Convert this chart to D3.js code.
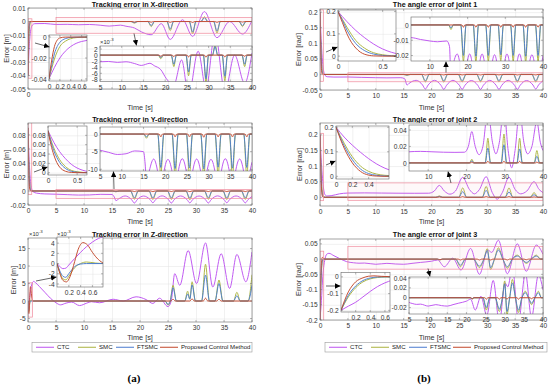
<!DOCTYPE html>
<html><head><meta charset="utf-8">
<script src="https://cdn.jsdelivr.net/npm/d3@7"></script>
<style>body{margin:0;background:#fff}svg{display:block}</style>
</head><body><svg width="550" height="388"></svg>
<script>
// ---------- series names / colours ----------
const seriesNames = ['CTC','SMC','FTSMC','Proposed Control Method'];
const seriesColors = ['#bd52f0','#aab33e','#4a7bcf','#c2472a'];

// ---------- (a) X-direction tracking error [m] ----------
const xCTC=[[0,-0.04],[0.1,-0.029],[0.2,-0.02],[0.3,-0.0135],[0.4,-0.009],[0.5,-0.006],[0.6,-0.0042],[0.8,-0.0026],[1.2,-0.0016],[3,-0.0015],[5,-0.0022],[7,-0.0021],[9,-0.0024],[11,-0.0022],[13,-0.0028],[14.5,-0.0034],[16.5,-0.0027],[17.5,-0.0035],[19,-0.0048],[20.3,-0.0078],[22,-0.0098],[23.8,-0.0016],[25.4,-0.0133],[27.6,0.0013],[29.4,-0.011],[31.5,0.0073],[33.75,-0.012],[36,0],[38.3,-0.0093],[40,0.0007]];
const xSMC=[[0,-0.04],[0.05,-0.03],[0.1,-0.021],[0.2,-0.009],[0.3,-0.004],[0.4,-0.0015],[0.5,-0.0005],[0.7,0],[18.4,0],[19,-0.0012],[19.6,0],[21.4,0],[22,-0.0038],[22.6,0],[24.8,0],[25.4,-0.0068],[26,0],[28.8,0],[29.4,-0.009],[30,0],[30.9,0],[31.5,0.0035],[32.1,0],[33.15,0],[33.75,-0.0085],[34.35,0],[37.7,0],[38.3,-0.0038],[38.9,0],[40,0]];
const xFTSMC=[[0,-0.04],[0.05,-0.027],[0.1,-0.016],[0.15,-0.009],[0.2,-0.005],[0.3,-0.0015],[0.4,-0.0004],[0.55,0],[18.4,0],[19,-0.0008],[19.6,0],[21.4,0],[22,-0.003],[22.6,0],[24.8,0],[25.4,-0.0055],[26,0],[28.8,0],[29.4,-0.0078],[30,0],[30.9,0],[31.5,0.0028],[32.1,0],[33.15,0],[33.75,-0.007],[34.35,0],[37.7,0],[38.3,-0.003],[38.9,0],[40,0]];
const xPCM=[[0,-0.04],[0.05,-0.022],[0.1,-0.009],[0.15,-0.003],[0.2,-0.0008],[0.3,0],[18.6,0],[19,-0.0004],[19.4,0],[21.6,0],[22,-0.0005],[22.4,0],[25,0],[25.4,-0.0006],[25.8,0],[29,0],[29.4,-0.0007],[29.8,0],[33.35,0],[33.75,-0.0006],[34.15,0],[37.9,0],[38.3,-0.0004],[38.7,0],[40,0]];

// ---------- (a) Y-direction tracking error [m] ----------
const yCTC=[[0,0.09],[0.1,0.065],[0.2,0.045],[0.3,0.03],[0.4,0.018],[0.5,0.01],[0.6,0.005],[0.7,0.002],[0.9,-0.001],[1.5,-0.003],[3,-0.0042],[5,-0.0046],[7,-0.0052],[9,-0.0058],[11,-0.0056],[13,-0.0048],[15,-0.005],[15.4,-0.0085],[15.7,-0.0138],[16.2,-0.0112],[17.35,-0.0071],[18.5,-0.0124],[19,-0.0172],[19.5,-0.0124],[20.65,-0.0072],[21.8,-0.0122],[22.3,-0.0168],[22.8,-0.0122],[23.95,-0.007],[25.1,-0.0124],[25.6,-0.0172],[26.1,-0.0124],[27.25,-0.0071],[28.4,-0.0123],[28.9,-0.017],[29.4,-0.0123],[30.55,-0.0072],[31.7,-0.0124],[32.2,-0.0172],[32.7,-0.0124],[33.85,-0.007],[35,-0.0122],[35.5,-0.0168],[36,-0.0122],[37.15,-0.0071],[38.3,-0.0123],[38.8,-0.017],[39.3,-0.0123],[40,-0.008]];
const ySMC=[[0,0.09],[0.05,0.07],[0.1,0.053],[0.2,0.028],[0.3,0.013],[0.4,0.005],[0.5,0.002],[0.7,0],[15.1,0],[15.7,-0.0012],[16.3,0],[18.3,0],[19,-0.0118],[19.7,0],[21.6,0],[22.3,-0.0122],[23,0],[24.9,0],[25.6,-0.012],[26.3,0],[28.2,0],[28.9,-0.0125],[29.6,0],[31.5,0],[32.2,-0.0118],[32.9,0],[34.8,0],[35.5,-0.0122],[36.2,0],[38.1,0],[38.8,-0.012],[39.5,0],[40,0]];
const yFTSMC=[[0,0.09],[0.05,0.066],[0.1,0.047],[0.15,0.033],[0.2,0.022],[0.3,0.009],[0.4,0.003],[0.5,0.001],[0.6,0],[15.1,0],[15.7,-0.0008],[16.3,0],[18.3,0],[19,-0.0095],[19.7,0],[21.6,0],[22.3,-0.0098],[23,0],[24.9,0],[25.6,-0.0096],[26.3,0],[28.2,0],[28.9,-0.0099],[29.6,0],[31.5,0],[32.2,-0.0094],[32.9,0],[34.8,0],[35.5,-0.0097],[36.2,0],[38.1,0],[38.8,-0.0095],[39.5,0],[40,0]];
const yPCM=[[0,0.09],[0.05,0.06],[0.1,0.038],[0.15,0.022],[0.2,0.012],[0.3,0.003],[0.4,0.0005],[0.5,0],[18.6,0],[19,-0.0008],[19.4,0],[21.9,0],[22.3,-0.0008],[22.7,0],[25.2,0],[25.6,-0.0008],[26,0],[28.5,0],[28.9,-0.0009],[29.3,0],[31.8,0],[32.2,-0.0008],[32.6,0],[35.1,0],[35.5,-0.0008],[35.9,0],[38.4,0],[38.8,-0.0008],[39.2,0],[40,0]];

// ---------- (a) Z-direction tracking error [m] ----------
const zCTC=[[0,0],[0.05,-0.0006],[0.1,-0.001],[0.15,-0.0009],[0.2,-0.0003],[0.3,0.001],[0.4,0.0022],[0.5,0.0033],[0.6,0.0042],[0.7,0.0049],[0.85,0.0054],[1,0.0056],[1.3,0.0053],[2,0.0042],[3,0.0025],[4,0.0008],[5,-0.0005],[5.8,-0.0011],[6.8,-0.0006],[7.8,-0.0003],[9.2,-0.0013],[10.5,-0.0006],[11.3,-0.0002],[12.8,-0.0005],[15.2,0.0005],[17,0],[19.3,0.0012],[21.1,0.0004],[22.3,-0.0007],[23.5,0.0008],[25,-0.0016],[25.6,0.0002],[26.2,0.0078],[27.1,0.0045],[28.6,0.0144],[30.1,0.005],[31.7,0.0166],[33,0.004],[34.5,0.0135],[36,0.0036],[37.3,0.0133],[38.9,0.0055],[40,0.014]];
const zSMC=[[0,0],[0.05,-0.0018],[0.1,-0.003],[0.15,-0.0032],[0.2,-0.0025],[0.3,-0.0008],[0.4,0],[0.5,0.0003],[0.65,0.0001],[0.8,0],[24.5,0],[25,-0.0012],[25.4,0],[25.9,0.0045],[26.5,0],[28,0],[28.5,0.0028],[28.9,0.0006],[29.3,0.0055],[29.9,0],[31,0],[31.7,0.0105],[32.4,0],[33.4,0],[34.1,0.006],[34.8,0],[36.7,0],[37.3,0.0025],[37.9,0],[39.3,0],[40,0.0075]];
const zFTSMC=[[0,0],[0.05,-0.0015],[0.1,-0.0025],[0.15,-0.0027],[0.2,-0.002],[0.3,-0.0006],[0.4,-0.0001],[0.5,0],[24.5,0],[25,-0.001],[25.4,0],[25.9,0.0038],[26.5,0],[28,0],[28.5,0.002],[28.9,0.0005],[29.3,0.0046],[29.9,0],[31,0],[31.7,0.0074],[32.4,0],[33.4,0],[34.1,0.005],[34.8,0],[36.7,0],[37.3,0.0015],[37.9,0],[39.3,0],[40,0.0045]];
const zPCM=[[0,0],[0.05,-0.002],[0.1,-0.0033],[0.16,-0.0036],[0.22,-0.0026],[0.3,0.0004],[0.36,0.0028],[0.44,0.0041],[0.52,0.0036],[0.6,0.0022],[0.7,0.0008],[0.8,0.0001],[1,0],[25.5,0],[25.9,0.0005],[26.3,0],[28.9,0],[29.3,0.0006],[29.7,0],[31.3,0],[31.7,0.0008],[32.1,0],[33.7,0],[34.1,0.0005],[34.5,0],[40,0]];

// ---------- (b) joint 1 angle error [rad] ----------
const j1CTC=[[0,0.2],[0.1,0.155],[0.2,0.115],[0.3,0.082],[0.4,0.054],[0.5,0.032],[0.6,0.017],[0.7,0.007],[0.9,-0.003],[1.3,-0.0075],[2.5,-0.0085],[5,-0.0083],[7.5,-0.0095],[10,-0.0105],[12,-0.011],[14.5,-0.0105],[15.2,-0.014],[15.6,-0.034],[16.1,-0.027],[17.25,-0.019],[18.4,-0.034],[18.9,-0.047],[19.4,-0.034],[20.55,-0.019],[21.7,-0.035],[22.2,-0.048],[22.7,-0.035],[23.85,-0.019],[25,-0.035],[25.5,-0.048],[26,-0.035],[27.15,-0.0195],[28.3,-0.035],[28.8,-0.048],[29.3,-0.035],[30.45,-0.019],[31.6,-0.035],[32.1,-0.048],[32.6,-0.035],[33.75,-0.019],[34.9,-0.035],[35.4,-0.048],[35.9,-0.035],[37.05,-0.0195],[38.2,-0.034],[38.7,-0.047],[39.2,-0.034],[40,-0.02]];
const j1SMC=[[0,0.2],[0.05,0.165],[0.1,0.13],[0.2,0.07],[0.3,0.035],[0.4,0.015],[0.5,0.006],[0.6,0.002],[0.8,0],[15,0],[15.6,-0.003],[16.2,0],[18.2,0],[18.9,-0.024],[19.6,0],[21.5,0],[22.2,-0.0245],[22.9,0],[24.8,0],[25.5,-0.024],[26.2,0],[28.1,0],[28.8,-0.0235],[29.5,0],[31.4,0],[32.1,-0.024],[32.8,0],[34.7,0],[35.4,-0.0245],[36.1,0],[38,0],[38.7,-0.024],[39.4,0],[40,0]];
const j1FTSMC=[[0,0.2],[0.05,0.16],[0.1,0.117],[0.15,0.083],[0.2,0.056],[0.3,0.024],[0.4,0.009],[0.5,0.003],[0.6,0.001],[0.7,0],[15,0],[15.6,-0.002],[16.2,0],[18.2,0],[18.9,-0.02],[19.6,0],[21.5,0],[22.2,-0.0205],[22.9,0],[24.8,0],[25.5,-0.02],[26.2,0],[28.1,0],[28.8,-0.0195],[29.5,0],[31.4,0],[32.1,-0.02],[32.8,0],[34.7,0],[35.4,-0.0205],[36.1,0],[38,0],[38.7,-0.02],[39.4,0],[40,0]];
const j1PCM=[[0,0.2],[0.05,0.15],[0.1,0.1],[0.15,0.062],[0.2,0.036],[0.25,0.018],[0.3,0.008],[0.4,0.001],[0.5,0],[18.5,0],[18.9,-0.0015],[19.3,0],[21.8,0],[22.2,-0.0015],[22.6,0],[25.1,0],[25.5,-0.0015],[25.9,0],[28.4,0],[28.8,-0.0015],[29.2,0],[31.7,0],[32.1,-0.0015],[32.5,0],[35,0],[35.4,-0.0015],[35.8,0],[38.3,0],[38.7,-0.0015],[39.1,0],[40,0]];

// ---------- (b) joint 2 angle error [rad] ----------
const j2CTC=[[0,0.2],[0.1,0.16],[0.2,0.127],[0.3,0.098],[0.4,0.072],[0.5,0.05],[0.6,0.033],[0.7,0.021],[0.85,0.01],[1.2,0.004],[2,0.005],[3.5,0.011],[5,0.0135],[8,0.014],[11,0.0135],[14,0.013],[17,0.0128],[19.5,0.013],[20.5,0.02],[21.4,0.038],[22.3,0.02],[23.3,0.01],[24.3,0.02],[25.6,0.064],[26.8,0.025],[27.7,0.011],[28.6,0.025],[29.8,0.066],[30.9,0.015],[31.8,-0.006],[32.7,0.015],[33.9,0.064],[35,0.025],[36,0.011],[37.1,0.02],[38.4,0.05],[39.3,0.025],[40,0.015]];
const j2SMC=[[0,0.2],[0.1,0.135],[0.2,0.08],[0.3,0.042],[0.4,0.02],[0.5,0.009],[0.6,0.004],[0.8,0.001],[1,0],[20.8,0],[21.4,0.0045],[22,0],[24.9,0],[25.6,0.03],[26.3,0],[29.1,0],[29.8,0.035],[30.5,0],[33.2,0],[33.9,0.03],[34.6,0],[37.7,0],[38.4,0.015],[39.1,0],[40,0]];
const j2FTSMC=[[0,0.2],[0.1,0.125],[0.2,0.068],[0.3,0.03],[0.4,0.011],[0.5,0.004],[0.6,0.001],[0.7,0],[20.8,0],[21.4,0.0025],[22,0],[24.9,0],[25.6,0.018],[26.3,0],[29.1,0],[29.8,0.022],[30.5,0],[33.2,0],[33.9,0.017],[34.6,0],[37.7,0],[38.4,0.008],[39.1,0],[40,0]];
const j2PCM=[[0,0.2],[0.1,0.115],[0.2,0.055],[0.3,0.02],[0.4,0.005],[0.5,0.001],[0.6,0],[21,0],[21.4,0.001],[21.8,0],[25.2,0],[25.6,0.002],[26,0],[29.4,0],[29.8,0.002],[30.2,0],[33.5,0],[33.9,0.002],[34.3,0],[38,0],[38.4,0.001],[38.8,0],[40,0]];

// ---------- (b) joint 3 angle error [rad] ----------
const j3CTC=[[0,-0.2],[0.1,-0.175],[0.2,-0.152],[0.3,-0.12],[0.4,-0.087],[0.5,-0.058],[0.6,-0.036],[0.7,-0.02],[0.85,-0.004],[1.2,0.016],[1.6,0.019],[2.5,0.011],[3.5,0.002],[4.8,-0.0085],[6,-0.012],[7,-0.0135],[8,-0.013],[10,-0.017],[12,-0.014],[13.5,-0.016],[15,-0.017],[16.5,-0.014],[18,-0.011],[20,-0.007],[21.1,-0.003],[22.3,-0.025],[23.8,0.003],[25.3,-0.036],[27,0.035],[28.6,-0.05],[30.1,0.03],[30.8,0.022],[32,0.062],[33.6,-0.048],[35.4,0.05],[37,-0.04],[38.8,0.046],[40,0.016]];
const j3SMC=[[0,-0.2],[0.1,-0.12],[0.2,-0.065],[0.3,-0.03],[0.4,-0.012],[0.5,-0.004],[0.6,-0.001],[0.8,0],[21,0],[21.5,-0.003],[22,0],[24.3,0],[25.2,-0.025],[26.1,0],[27.5,0],[28.6,-0.028],[29.4,0],[30,0.034],[30.6,-0.034],[31.3,0],[32,0.037],[32.8,0],[33.6,-0.03],[34.5,0],[35.4,0.013],[36.2,0],[37,-0.014],[37.9,0],[38.8,0.013],[39.6,0],[40,0]];
const j3FTSMC=[[0,-0.2],[0.1,-0.11],[0.2,-0.055],[0.3,-0.022],[0.4,-0.007],[0.5,-0.001],[0.6,0],[21,0],[21.5,-0.002],[22,0],[24.3,0],[25.2,-0.02],[26.1,0],[27.5,0],[28.6,-0.023],[29.4,0],[30,0.028],[30.6,-0.028],[31.3,0],[32,0.03],[32.8,0],[33.6,-0.025],[34.5,0],[35.4,0.01],[36.2,0],[37,-0.011],[37.9,0],[38.8,0.01],[39.6,0],[40,0]];
const j3PCM=[[0,-0.2],[0.05,-0.14],[0.1,-0.09],[0.15,-0.055],[0.2,-0.03],[0.3,-0.006],[0.38,0.004],[0.45,0.006],[0.55,0.003],[0.7,0.001],[0.9,0],[21.1,0],[21.5,-0.002],[21.9,0],[24.8,0],[25.2,-0.003],[25.6,0],[28.2,0],[28.6,-0.003],[29,0],[30.2,0],[30.6,-0.003],[31,0],[33.2,0],[33.6,-0.003],[34,0],[36.6,0],[37,-0.002],[37.4,0],[40,0]];

// ---------- tick values ----------
const tTicks=[0,5,10,15,20,25,30,35,40];
const tTicksZoom=[5,10,15,20,25,30,35,40];
const tTicksZoom10=[10,20,30,40];
const xErrTicks=[-0.05,-0.04,-0.03,-0.02,-0.01,0,0.01];
const xErrInsetA=[-0.04,-0.02,0];
const xErrInsetB=[-0.008,-0.006,-0.004,-0.002,0,0.002];
const yErrTicks=[-0.02,0,0.02,0.04,0.06,0.08];
const yErrInsetA=[0,0.02,0.04,0.06,0.08];
const yErrInsetB=[-0.01,-0.005,0];
const zErrTicks=[-0.005,0,0.005,0.01,0.015];
const zErrInset=[-0.004,-0.002,0,0.002,0.004];
const j1Ticks=[-0.05,0,0.05,0.1,0.15,0.2];
const j1InsetA=[0,0.1,0.2];
const j1InsetB=[-0.02,-0.01,0];
const j2Ticks=[0,0.05,0.1,0.15,0.2];
const j2InsetA=[0,0.1,0.2];
const j2InsetB=[0,0.02,0.04];
const j3Ticks=[-0.2,-0.15,-0.1,-0.05,0,0.05];
const j3InsetA=[-0.2,-0.1,0];
const j3InsetB=[-0.02,0,0.02,0.04];

// ---------- drawing ----------
const FONT='"Liberation Sans", Arial, Helvetica, sans-serif';
const svg=d3.select('svg').attr('font-family',FONT);
const defs=svg.append('defs');
defs.append('marker').attr('id','ah').attr('viewBox','0 0 10 10').attr('refX',10).attr('refY',5)
  .attr('markerWidth',5.5).attr('markerHeight',5.5).attr('markerUnits','userSpaceOnUse').attr('orient','auto')
  .append('path').attr('d','M0,0L10,5L0,10z').attr('fill','#000');
let nClip=0;
const fDec=d=>String(+d.toFixed(4));
const fE3=d=>String(Math.round(d*1000));

function axes(o){
  const xs=d3.scaleLinear().domain(o.xd).range([o.x0,o.x1]);
  const ys=d3.scaleLinear().domain(o.yd).range([o.y1,o.y0]);
  const w=o.x1-o.x0,h=o.y1-o.y0;
  const g=svg.append('g');
  g.append('rect').attr('x',o.x0).attr('y',o.y0).attr('width',w).attr('height',h).attr('fill','#fff');
  const gx=g.append('g').attr('transform',`translate(0,${o.y1})`)
    .call(d3.axisBottom(xs).tickValues(o.xt).tickFormat(o.xf).tickSizeInner(-h).tickSizeOuter(0).tickPadding(3.4));
  const gy=g.append('g').attr('transform',`translate(${o.x0},0)`)
    .call(d3.axisLeft(ys).tickValues(o.yt).tickFormat(o.yf).tickSizeInner(-w).tickSizeOuter(0).tickPadding(2.4));
  for(const a of [gx,gy]){
    a.attr('font-family',FONT).attr('font-size',6.6);
    a.select('.domain').remove();
    a.selectAll('.tick line').attr('stroke','#e3e3e3').attr('stroke-width',0.5);
    a.selectAll('.tick text').attr('fill','#333');
  }
  const id='clip'+(nClip++);
  defs.append('clipPath').attr('id',id).append('rect').attr('x',o.x0).attr('y',o.y0).attr('width',w).attr('height',h);
  const lg=g.append('g').attr('clip-path',`url(#${id})`);
  const line=d3.line().x(d=>xs(d[0])).y(d=>ys(d[1])).curve(d3.curveMonotoneX);
  o.data.forEach((arr,i)=>lg.append('path').attr('d',line(arr)).attr('fill','none')
    .attr('stroke',seriesColors[i]).attr('stroke-width',0.95));
  (o.rects||[]).forEach(r=>lg.append('rect').attr('x',xs(r[0])).attr('y',ys(r[3]))
    .attr('width',xs(r[1])-xs(r[0])).attr('height',ys(r[2])-ys(r[3]))
    .attr('fill','#f7a8b6').attr('fill-opacity',0.08).attr('stroke','#f08b9d').attr('stroke-width',0.7));
  const tk=g.append('g').attr('stroke','#777').attr('stroke-width',0.5);
  o.xt.forEach(t=>{const x=xs(t);
    tk.append('line').attr('x1',x).attr('x2',x).attr('y1',o.y1).attr('y2',o.y1-2);
    tk.append('line').attr('x1',x).attr('x2',x).attr('y1',o.y0).attr('y2',o.y0+2);});
  o.yt.forEach(t=>{const y=ys(t);
    tk.append('line').attr('y1',y).attr('y2',y).attr('x1',o.x0).attr('x2',o.x0+2);
    tk.append('line').attr('y1',y).attr('y2',y).attr('x1',o.x1).attr('x2',o.x1-2);});
  g.append('rect').attr('x',o.x0).attr('y',o.y0).attr('width',w).attr('height',h)
    .attr('fill','none').attr('stroke','#666').attr('stroke-width',0.6);
  return {xs,ys};
}
function title(txt,x,y){svg.append('text').attr('x',x).attr('y',y).attr('text-anchor','middle')
  .attr('font-size',7.2).attr('font-weight','bold').attr('fill','#111').text(txt);}
function xlab(x,y){svg.append('text').attr('x',x).attr('y',y).attr('text-anchor','middle')
  .attr('font-size',7.3).attr('fill','#333').text('Time [s]');}
function ylab(txt,x,y){svg.append('text').attr('transform',`translate(${x},${y}) rotate(-90)`)
  .attr('text-anchor','middle').attr('dy','0.35em').attr('font-size',7.3).attr('fill','#333').text(txt);}
function expo(x,y){const t=svg.append('text').attr('x',x).attr('y',y).attr('font-size',5.8).attr('fill','#333');
  t.append('tspan').text('\u00d710');t.append('tspan').attr('dy',-2.6).attr('font-size',4.4).text('-3');}
function arrow(a,b){svg.append('line').attr('x1',a[0]).attr('y1',a[1]).attr('x2',b[0]).attr('y2',b[1])
  .attr('stroke','#000').attr('stroke-width',0.6).attr('marker-end','url(#ah)');}
const legendLayout=[[4,22,25],[46,64,67],[84,102,105],[128,146,149]];
function legend(x0,y0,w){
  const g=svg.append('g');
  g.append('rect').attr('x',x0).attr('y',y0).attr('width',w).attr('height',9.5).attr('fill','#fff')
    .attr('stroke','#9a9a9a').attr('stroke-width',0.6);
  const cy=y0+4.75;
  legendLayout.forEach((e,i)=>{
    g.append('line').attr('x1',x0+e[0]).attr('x2',x0+e[1]).attr('y1',cy).attr('y2',cy)
      .attr('stroke',seriesColors[i]).attr('stroke-width',1);
    g.append('text').attr('x',x0+e[2]).attr('y',cy+2.2).attr('font-size',6.1).attr('fill','#222').text(seriesNames[i]);
  });
}

// ===== (a) X =====
const XD=[xCTC,xSMC,xFTSMC,xPCM];
title('Tracking error in X-direction',140,7.3);
axes({x0:28,x1:252,y0:8,y1:89,xd:[0,40],yd:[-0.05,0.01],xt:tTicks,yt:xErrTicks,
  xf:d=>d===0?'0':'',yf:fDec,data:XD,rects:[[0,0.7,-0.042,0.002],[5,40,-0.0087,0.003]]});
axes({x0:49,x1:87,y0:35,y1:81,xd:[0,0.7],yd:[-0.042,0.002],xt:[0,0.2,0.4,0.6],yt:xErrInsetA,xf:fDec,yf:fDec,data:XD});
axes({x0:100,x1:252,y0:46,y1:81.5,xd:[5,40],yd:[-0.0087,0.003],xt:tTicksZoom,yt:xErrInsetB,xf:fDec,yf:fE3,data:XD});
expo(100,44);
xlab(140,110);ylab('Error [m]',6,48.5);

// ===== (a) Y =====
const YD=[yCTC,ySMC,yFTSMC,yPCM];
title('Tracking error in Y-direction',140,121.5);
axes({x0:28,x1:252,y0:123,y1:205,xd:[0,40],yd:[-0.02,0.097],xt:tTicks,yt:yErrTicks,xf:fDec,yf:fDec,data:YD,
  rects:[[0,0.67,-0.005,0.1],[5,40,-0.0105,0.002]]});
axes({x0:48,x1:87,y0:126,y1:175,xd:[0,0.67],yd:[-0.005,0.1],xt:[0,0.5],yt:yErrInsetA,xf:fDec,yf:fDec,data:YD});
axes({x0:100,x1:252,y0:127,y1:171,xd:[5,40],yd:[-0.0105,0.002],xt:tTicksZoom,yt:yErrInsetB,xf:fDec,yf:fE3,data:YD});
xlab(140,223.5);ylab('Error [m]',6,164);

// ===== (a) Z =====
const ZD=[zCTC,zSMC,zFTSMC,zPCM];
title('Tracking error in Z-direction',140,236.5);
axes({x0:28,x1:252,y0:238,y1:322,xd:[0,40],yd:[-0.006,0.018],xt:tTicks,yt:zErrTicks,xf:fDec,yf:fE3,data:ZD,
  rects:[[0,0.78,-0.0046,0.0052]]});
axes({x0:57,x1:103,y0:237,y1:287,xd:[0,0.78],yd:[-0.0046,0.0052],xt:[0.2,0.4,0.6],yt:zErrInset,xf:fDec,yf:fE3,data:ZD});
expo(29,236);expo(57,235.5);
xlab(140,339.5);ylab('Error [m]',13,280);
legend(32,342.5,220);

// ===== (b) joint 1 =====
const J1=[j1CTC,j1SMC,j1FTSMC,j1PCM];
title('The angle error of joint 1',435,7.3);
axes({x0:320,x1:543,y0:9,y1:90,xd:[0,40],yd:[-0.05,0.21],xt:tTicks,yt:j1Ticks,xf:fDec,yf:fDec,data:J1,
  rects:[[0,0.65,-0.022,0.207],[5,40,-0.0236,0.0052]]});
axes({x0:338,x1:396,y0:10,y1:61,xd:[0,0.65],yd:[-0.022,0.207],xt:[0,0.5],yt:j1InsetA,xf:fDec,yf:fDec,data:J1});
axes({x0:411,x1:543,y0:17,y1:61,xd:[5,40],yd:[-0.0236,0.0052],xt:tTicksZoom10,yt:j1InsetB,xf:fDec,yf:fDec,data:J1});
xlab(431.5,109.5);ylab('Error [rad]',298,49.5);

// ===== (b) joint 2 =====
const J2=[j2CTC,j2SMC,j2FTSMC,j2PCM];
title('The angle error of joint 2',435,121.5);
axes({x0:320,x1:543,y0:123,y1:206,xd:[0,40],yd:[-0.028,0.238],xt:tTicks,yt:j2Ticks,xf:fDec,yf:fDec,data:J2,
  rects:[[0,0.65,-0.011,0.205],[5,40,-0.0098,0.046]]});
axes({x0:336,x1:389,y0:126,y1:179,xd:[0,0.65],yd:[-0.011,0.205],xt:[0,0.2,0.4],yt:j2InsetA,xf:fDec,yf:fDec,data:J2});
axes({x0:409,x1:543,y0:125,y1:171,xd:[5,40],yd:[-0.0098,0.046],xt:tTicksZoom10,yt:j2InsetB,xf:fDec,yf:fDec,data:J2});
xlab(431.5,223.5);ylab('Error [rad]',299,164.5);

// ===== (b) joint 3 =====
const J3=[j3CTC,j3SMC,j3FTSMC,j3PCM];
title('The angle error of joint 3',435,236.5);
axes({x0:320,x1:543,y0:239,y1:320,xd:[0,40],yd:[-0.2,0.066],xt:tTicks,yt:j3Ticks,xf:fDec,yf:fDec,data:J3,
  rects:[[0,0.67,-0.21,0.026],[5,40,-0.033,0.042]]});
axes({x0:341,x1:390,y0:272.5,y1:312,xd:[0,0.67],yd:[-0.21,0.026],xt:[0.2,0.4,0.6],yt:j3InsetA,xf:fDec,yf:fDec,data:J3});
axes({x0:409,x1:543,y0:277,y1:314,xd:[5,40],yd:[-0.033,0.042],xt:tTicksZoom,yt:j3InsetB,xf:fDec,yf:fDec,data:J3});
xlab(431.5,339.5);ylab('Error [rad]',298,279.5);
legend(325,342.5,222);

// arrows from zoom boxes to insets
arrow([35,43],[49.5,47]);arrow([134,33.5],[136.5,45.5]);
arrow([34,172],[47.5,167]);arrow([114,189],[113.5,171.5]);
arrow([36,281],[56.5,277]);
arrow([326,52],[337.5,47]);arrow([446,72.5],[446,61.5]);
arrow([326,165],[335.5,161]);arrow([451,183],[448,171.5]);
arrow([326,286],[340.5,286]);arrow([428,268.5],[430,276.5]);

// panel captions
svg.append('text').attr('x',134).attr('y',382).attr('text-anchor','middle').attr('font-family','"Liberation Serif","DejaVu Serif",serif')
  .attr('font-weight','bold').attr('font-size',11).text('(a)');
svg.append('text').attr('x',424).attr('y',382).attr('text-anchor','middle').attr('font-family','"Liberation Serif","DejaVu Serif",serif')
  .attr('font-weight','bold').attr('font-size',11).text('(b)');
</script></body></html>
